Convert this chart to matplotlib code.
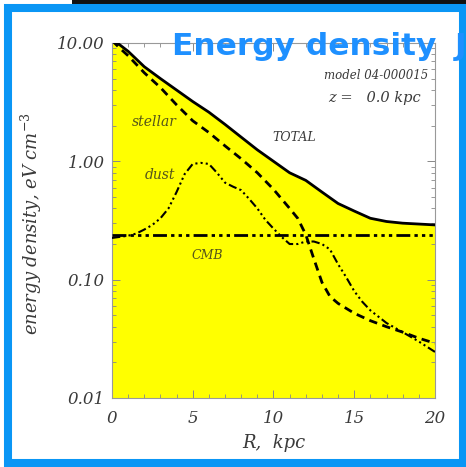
import numpy as np
import matplotlib
matplotlib.use('Agg')
import matplotlib.pyplot as plt
from matplotlib.patches import Rectangle
from matplotlib.ticker import LogLocator, NullFormatter, MultipleLocator

# radius, kpc
r_total = [0, 0.5, 1, 2, 3, 4, 5, 6, 7, 8, 9, 10, 11, 12, 13, 14, 15, 16, 17, 18, 19, 20]
total = [10.8, 9.6, 8.5, 6.3, 5.0, 4.0, 3.2, 2.6, 2.05, 1.6, 1.25, 1.0, 0.8, 0.69,
         0.55, 0.44, 0.38, 0.33, 0.31, 0.30, 0.295, 0.29]

r_stellar = [0, 0.5, 1, 2, 3, 4, 5, 6, 7, 8, 9, 10, 11, 11.5, 12, 12.5, 13, 13.5,
             14, 15, 16, 17, 18, 19, 20]
stellar = [10.5, 9.0, 7.8, 5.6, 4.2, 3.0, 2.2, 1.75, 1.35, 1.05, 0.8, 0.58, 0.40, 0.33,
           0.24, 0.15, 0.095, 0.072, 0.063, 0.052, 0.045, 0.040, 0.036, 0.032, 0.029]

r_dust = [0, 0.5, 1, 1.5, 2, 2.5, 3, 3.5, 4, 4.5, 5, 5.5, 6, 6.5, 7, 7.5, 8, 8.5, 9,
          9.5, 10, 10.5, 11, 11.5, 12, 12.5, 13, 13.5, 14, 14.5, 15, 15.5, 16, 17,
          18, 19, 20]
dust = [0.225, 0.23, 0.235, 0.245, 0.265, 0.29, 0.33, 0.40, 0.55, 0.78, 0.95, 0.97,
        0.95, 0.80, 0.66, 0.61, 0.57, 0.48, 0.40, 0.32, 0.27, 0.23, 0.20, 0.20, 0.21,
        0.21, 0.20, 0.18, 0.135, 0.105, 0.08, 0.065, 0.055, 0.043, 0.036, 0.030, 0.0245]

cmb = 0.24

plt.rcParams['mathtext.fontset'] = 'dejavuserif'
fig = plt.figure(figsize=(4.66, 4.67), dpi=100, facecolor='white')
ax = fig.add_axes([0.2403, 0.1478, 0.6931, 0.7602])

serif = ['DejaVu Serif']
txtcol = '#3a3a3a'
annocol = '#55551a'

ax.fill_between(r_total, total, 0.001, color='#ffff00', lw=0, zorder=1)
ax.plot(r_total, total, color='black', lw=2.0, zorder=3)
ax.plot(r_stellar, stellar, color='black', lw=2.0, dashes=(3, 2), zorder=3)
ax.plot(r_dust, dust, color='black', lw=1.5,
        dashes=(4, 1.5, 1, 1.5, 1, 1.5, 1, 1.5), zorder=3)
ax.plot([0, 20], [cmb, cmb], color='black', lw=2.0,
        dashes=(5, 1.5, 1.2, 1.5, 1.2, 1.5, 1.2, 1.5), zorder=3)

ax.set_yscale('log')
ax.set_xlim(0, 20)
ax.set_ylim(0.01, 10)

ax.set_yticks([0.01, 0.1, 1, 10])
ax.set_yticklabels(['0.01', '0.10', '1.00', '10.00'])
ax.yaxis.set_minor_locator(LogLocator(base=10, subs=np.arange(2, 10)))
ax.yaxis.set_minor_formatter(NullFormatter())
ax.xaxis.set_major_locator(MultipleLocator(5))
ax.xaxis.set_minor_locator(MultipleLocator(1))

for s in ax.spines.values():
    s.set_color('#999999')
    s.set_linewidth(0.8)
ax.tick_params(which='both', direction='in', top=True, right=True, colors='#888888',
               labelcolor=txtcol)
ax.tick_params(which='major', length=6, width=0.7, labelsize=12)
ax.tick_params(axis='x', which='major', pad=9)
ax.tick_params(axis='y', which='major', pad=5)
ax.tick_params(which='minor', length=3, width=0.6)
for lab in ax.get_xticklabels() + ax.get_yticklabels():
    lab.set_family(serif)
    lab.set_style('italic')

ax.set_xlabel('R,  kpc', family=serif, style='italic', fontsize=13, color=txtcol,
              labelpad=5)
ax.set_ylabel(r'energy density, eV cm$^{-3}$', family=serif, style='italic',
              fontsize=13, color=txtcol)
ax.yaxis.set_label_coords(-0.21, 0.49)

ax.text(2.6, 2.15, 'stellar', family=serif, style='italic', fontsize=10,
        color=annocol, ha='center', va='center', zorder=4)
ax.text(3.0, 0.77, 'dust', family=serif, style='italic', fontsize=10,
        color=annocol, ha='center', va='center', zorder=4)
ax.text(5.9, 0.16, 'CMB', family=serif, style='italic', fontsize=9,
        color=annocol, ha='center', va='center', zorder=4)
ax.text(11.3, 1.6, 'TOTAL', family=serif, style='italic', fontsize=9,
        color=txtcol, ha='center', va='center', zorder=4)
ax.text(19.6, 5.26, 'model 04-000015', family=serif, style='italic', fontsize=8.5,
        color=txtcol, ha='right', va='center', zorder=4)
ax.text(13.4, 3.43, 'z =   0.0 kpc', family=serif, style='italic', fontsize=10.5,
        color=txtcol, ha='left', va='center', zorder=4)

# blue slide frame and dark strip above it
W, H = 466.0, 467.0
fig.patches.append(Rectangle((72 / W, 1 - 4 / H), 1 - 72 / W, 4 / H,
                             transform=fig.transFigure, color='#111111', lw=0))
fig.patches.append(Rectangle((8 / W, 4 / H), 455 / W, 455 / H, transform=fig.transFigure,
                             fill=False, edgecolor='#0a96f5', lw=5.8))

fig.text(172 / W, 1 - 55 / H, 'Energy density', color='#1e90ff', fontsize=22.5,
         fontweight='bold', family='DejaVu Sans', ha='left', va='baseline', zorder=10)
# next word of the slide title, mostly outside the picture
fig.text(455 / W, 1 - 55 / H, 'J', color='#1e90ff', fontsize=22.5,
         fontweight='bold', family='DejaVu Sans', ha='left', va='baseline', zorder=10)

fig.savefig('out.png', dpi=100, facecolor='white')
